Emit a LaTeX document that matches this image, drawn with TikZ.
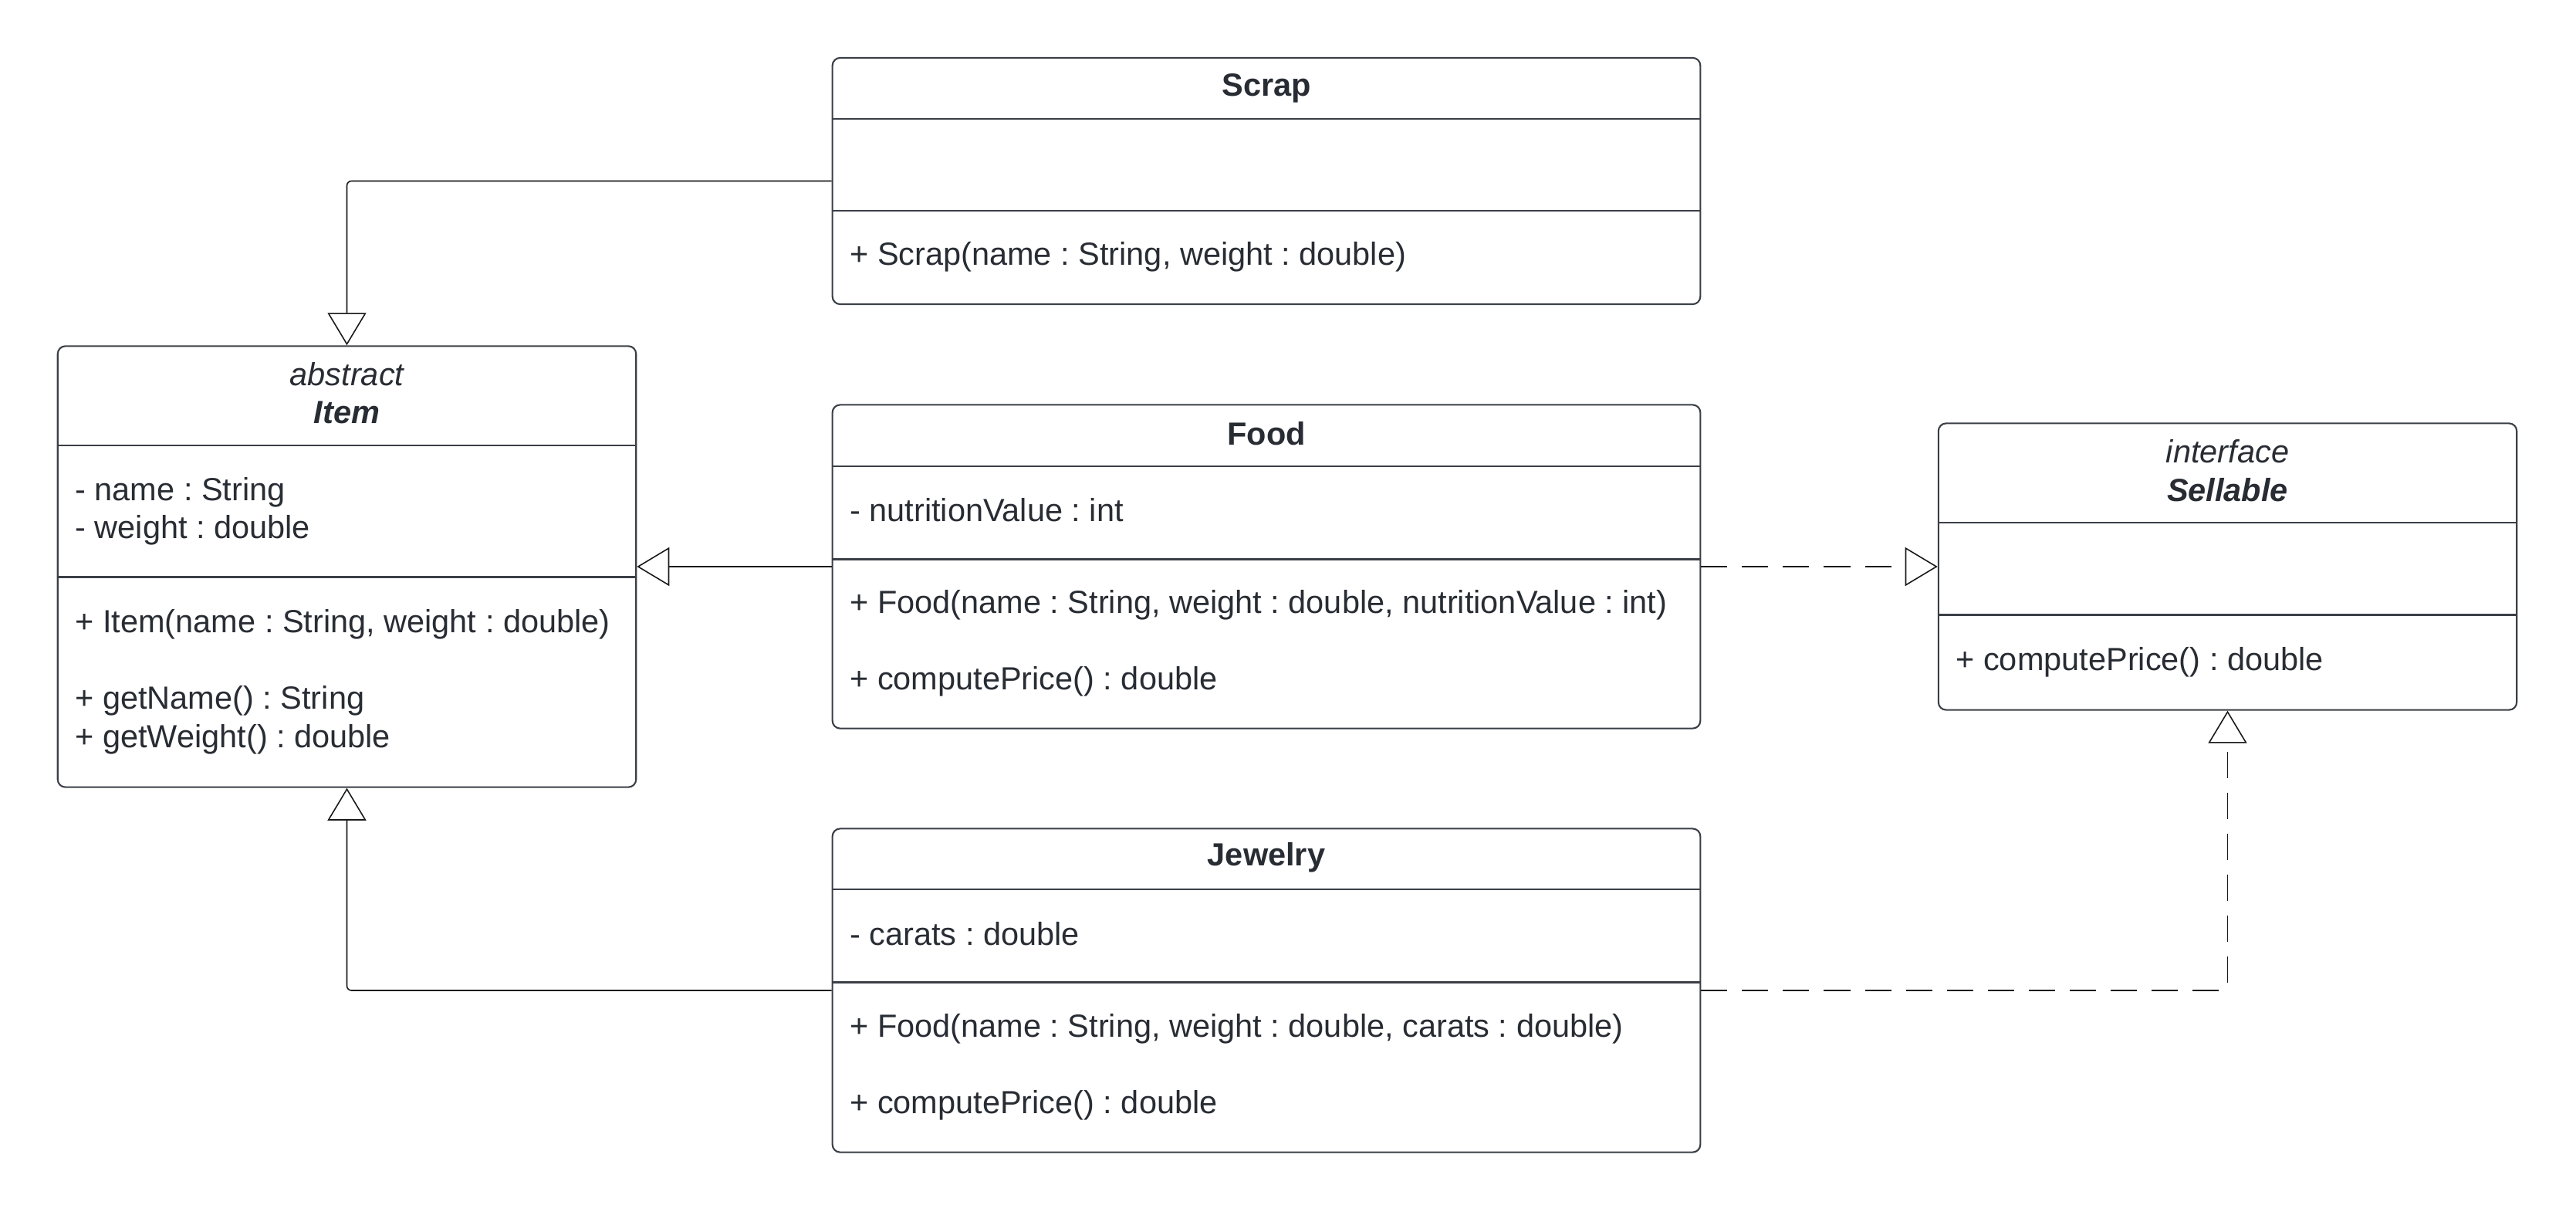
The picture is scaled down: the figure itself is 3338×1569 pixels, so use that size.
\documentclass[tikz,border=0pt]{standalone}
\usepackage{fontspec}
\setmainfont{Liberation Sans}
\usepackage{tikz}
\usetikzlibrary{arrows.meta}
\usetikzlibrary{positioning}
\usetikzlibrary{calc}
\definecolor{ink}{HTML}{282C33}
\definecolor{rim}{HTML}{3A3F47}
\newcommand{\umlfont}{\fontsize{11.8}{14.1}\selectfont\frenchspacing}
\tikzstyle{classbox}=[draw=rim,line width=0.6pt,rounded corners=0.1cm,fill=white,inner sep=0pt]
\tikzstyle{title}=[text=ink,font=\umlfont\bfseries,align=center,inner sep=0pt]
\tikzstyle{member}=[text=ink,font=\umlfont,anchor=west,align=left,inner sep=0pt]

\begin{document}
\begin{tikzpicture}[x=0.01cm,y=-0.01cm]
\tikzstyle{sep}=[draw=rim,line width=0.6pt]
\tikzstyle{gen}=[draw=black!90,line width=0.45pt,rounded corners=0.06cm,-{Triangle[length=4.2mm,width=5mm,fill=white]}]
\tikzstyle{real}=[gen,dash pattern=on 0.34cm off 0.19cm]
\useasboundingbox (0,0) rectangle (3338,1569);
% classes
\node [classbox,minimum width=11.24cm,minimum height=3.19cm] (s) at (1641,234.5) {};
\node [classbox,minimum width=7.49cm,minimum height=5.71cm] (i) at (449.5,734) {};
\node [classbox,minimum width=11.24cm,minimum height=4.19cm] (f) at (1641,734) {};
\node [classbox,minimum width=7.49cm,minimum height=3.71cm] (p) at (2886.5,734) {};
\node [classbox,minimum width=11.24cm,minimum height=4.19cm] (j) at (1641,1283) {};

% compartments
\draw[sep] ([yshift=-0.80cm]s.north west) -- ([yshift=-0.80cm]s.north east);
\draw[sep] ([yshift=-1.99cm]s.north west) -- ([yshift=-1.99cm]s.north east);
\draw[sep] ([yshift=-1.30cm]i.north west) -- ([yshift=-1.30cm]i.north east);
\draw[sep] ([yshift=-3.00cm]i.north west) -- ([yshift=-3.00cm]i.north east);
\draw[sep] ([yshift=-0.81cm]f.north west) -- ([yshift=-0.81cm]f.north east);
\draw[sep] ([yshift=-2.01cm]f.north west) -- ([yshift=-2.01cm]f.north east);
\draw[sep] ([yshift=-1.30cm]p.north west) -- ([yshift=-1.30cm]p.north east);
\draw[sep] ([yshift=-2.49cm]p.north west) -- ([yshift=-2.49cm]p.north east);
\draw[sep] ([yshift=-0.80cm]j.north west) -- ([yshift=-0.80cm]j.north east);
\draw[sep] ([yshift=-2.00cm]j.north west) -- ([yshift=-2.00cm]j.north east);

% texts
\node [title] (st) at ([yshift=-0.40cm]s.north) {Scrap};
\node [member] (sm) at ([xshift=0.23cm,yshift=-2.59cm]s.north west) {+ Scrap(name : String, weight : double)};

\node [title] (it) at ([yshift=-0.62cm]i.north) {\mdseries\itshape abstract\\\bfseries\itshape Item};
\node [member] (ia) at ([xshift=0.23cm,yshift=-2.15cm]i.north west) {- name : String\\- weight : double};
\node [member] (im) at ([xshift=0.23cm,yshift=-4.355cm]i.north west) {+ Item(name : String, weight : double)\\[14.1pt]+ getName() : String\\+ getWeight() : double};

\node [title] (ft) at ([yshift=-0.38cm]f.north) {Food};
\node [member] (fa) at ([xshift=0.23cm,yshift=-1.37cm]f.north west) {- nutritionValue : int};
\node [member] (fm) at ([xshift=0.23cm,yshift=-3.10cm]f.north west) {+ Food(name : String, weight : double, nutritionValue : int)\\[14.1pt]+ computePrice() : double};

\node [title] (pt) at ([yshift=-0.62cm]p.north) {\mdseries\itshape interface\\\bfseries\itshape Sellable};
\node [member] (pm) at ([xshift=0.23cm,yshift=-3.10cm]p.north west) {+ computePrice() : double};

\node [title] (jt) at ([yshift=-0.38cm]j.north) {Jewelry};
\node [member] (ja) at ([xshift=0.23cm,yshift=-1.37cm]j.north west) {- carats : double};
\node [member] (jm) at ([xshift=0.23cm,yshift=-3.095cm]j.north west) {+ Food(name : String, weight : double, carats :\ double)\\[14.1pt]+ computePrice() : double};

% generalisation and realisation
\draw[gen] (s.west) -| (i.north);
\draw[gen] (f.west) -- (i.east);
\draw[gen] (j.west) -| (i.south);
\draw[real] (f.east) -- (p.west);
\draw[real] (j.east) -| (p.south);
\end{tikzpicture}
\end{document}
